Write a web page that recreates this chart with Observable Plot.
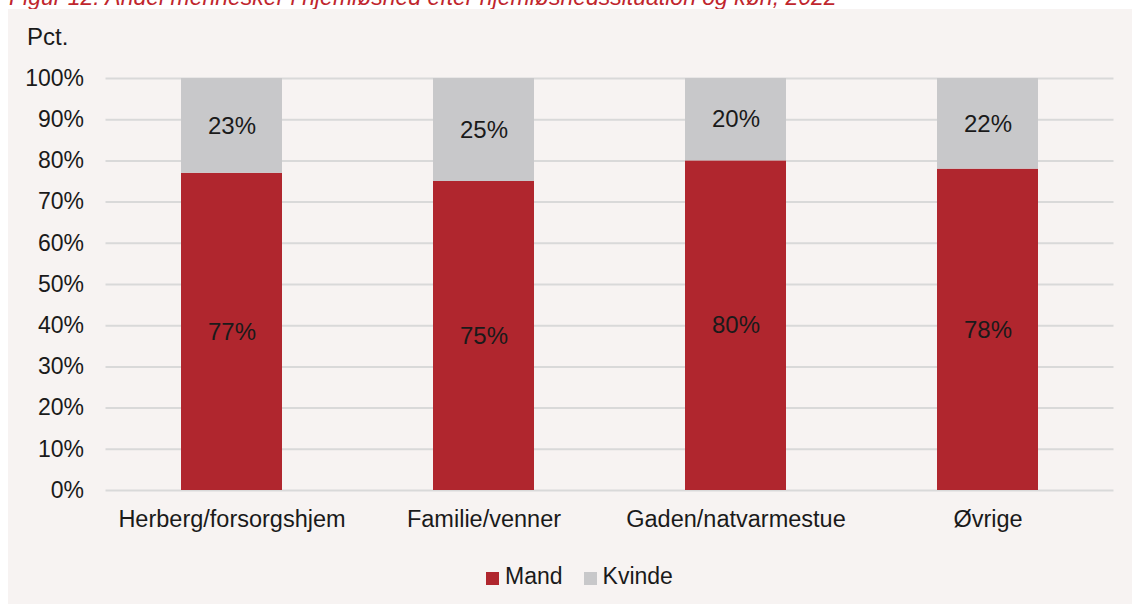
<!DOCTYPE html>
<html><head><meta charset="utf-8">
<script src="https://cdn.jsdelivr.net/npm/d3@7"></script>
<script src="https://cdn.jsdelivr.net/npm/@observablehq/plot@0.6"></script>
<style>
html,body{margin:0;padding:0;background:#fff;width:1132px;height:604px;overflow:hidden;font-family:"Liberation Sans",Arial,sans-serif;}
#title{position:absolute;left:9px;top:-14.5px;font-size:23px;line-height:23px;font-style:italic;color:#c0262d;white-space:nowrap;}
#panel{position:absolute;left:8px;top:9px;width:1124px;height:595px;background:#f7f3f2;}
#pct{position:absolute;left:27px;top:24.7px;font-size:24px;line-height:24px;color:#1a1a1a;}
#chart{position:absolute;left:0;top:0;}
#legend{position:absolute;top:564.5px;left:486px;font-size:23px;line-height:23px;color:#1a1a1a;white-space:nowrap;}
.sw{display:inline-block;width:13px;height:12.5px;margin-right:6px;vertical-align:-1px;}
</style></head>
<body>
<div id="title">Figur 12: Andel mennesker i hjemløshed efter hjemløshedssituation og køn, 2022</div>
<div id="panel"></div>
<div id="pct">Pct.</div>
<div id="chart"></div>
<div id="legend"><span class="sw" style="background:#b0262e"></span><span>Mand</span><span class="sw" style="background:#c8c8ca;margin-left:21px"></span><span>Kvinde</span></div>
<script>
const categories = ["Herberg/forsorgshjem", "Familie/venner", "Gaden/natvarmestue", "Øvrige"];
const mand = [77, 75, 80, 78];
const kvinde = [23, 25, 20, 22];
const series = ["Mand", "Kvinde"];
const colors = ["#b0262e", "#c8c8ca"];
const yTicks = [0,10,20,30,40,50,60,70,80,90,100];

const data = [];
categories.forEach((c,i) => {
  data.push({cat:c, sex:"Mand", v:mand[i]});
  data.push({cat:c, sex:"Kvinde", v:kvinde[i]});
});

const chart = Plot.plot({
  width: 1132,
  height: 604,
  marginTop: 78,
  marginBottom: 114,
  marginLeft: 105.5,
  marginRight: 18.5,
  style: {background: "transparent", fontFamily: "'Liberation Sans', Arial, sans-serif", color: "#1a1a1a"},
  x: {domain: categories, paddingInner: 0.6, paddingOuter: 0.3, label: null},
  y: {domain: [0,100], label: null},
  color: {domain: series, range: colors},
  marks: [
    Plot.ruleY(yTicks, {stroke: "#d9d9d9", strokeWidth: 2}),
    Plot.barY(data, Plot.stackY({x: "cat", y: "v", fill: "sex", order: null})),
    Plot.text(data, Plot.stackY({x: "cat", y: "v", z: "sex", order: null, text: d => d.v + "%", fill: "#1a1a1a", fontSize: 24})),
    Plot.axisX({tickSize: 0, tickPadding: 20, fontSize: 23.5, label: null, fill: "#1a1a1a"}),
    Plot.axisY({ticks: yTicks, tickFormat: d => d + "%", tickSize: 0, tickPadding: 22, fontSize: 23, label: null, fill: "#1a1a1a"})
  ]
});
document.getElementById("chart").appendChild(chart);
</script>
</body></html>
